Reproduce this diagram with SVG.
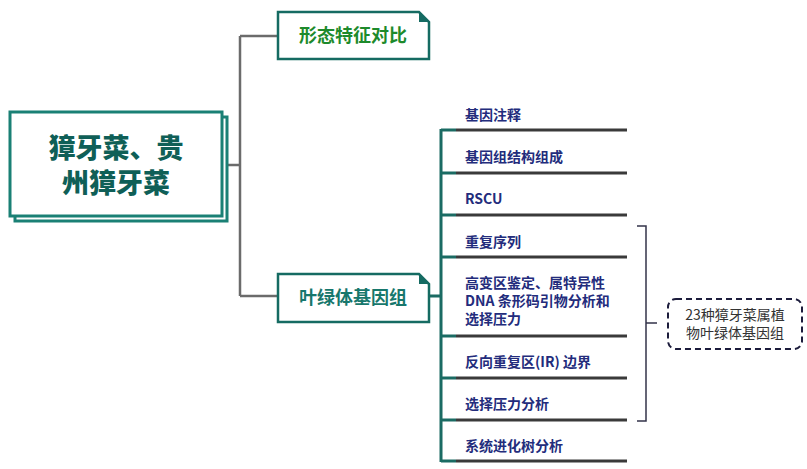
<svg xmlns="http://www.w3.org/2000/svg" width="807" height="469" viewBox="0 0 807 469">
<style>
.gl{stroke:#6b6b6b;stroke-width:2.5;fill:none}
.tl{stroke:#1a6b63;stroke-width:3;fill:none}
.dl{stroke:#3a3a3a;stroke-width:3;fill:none}
.box{fill:#fff;stroke:#156b62;stroke-width:2.5}
.leaf{font-family:"Noto Sans CJK SC","Noto Sans",sans-serif;font-size:14px;font-weight:bold;fill:#232c7c}
.mid{font-family:"Noto Sans CJK SC",sans-serif;font-size:18px;font-weight:bold;text-anchor:middle}
</style>
<rect width="807" height="469" fill="#fff"/>
<g id="connectors">
<path class="gl" d="M226 165H240M240 36V296M240 36H278M240 296H278"/>
<path class="tl" d="M429 296H441M441 129V462"/>
<path class="tl" d="M441 130H456M441 173H456M441 215H456M441 257H456M441 336H456M441 378H456M441 420H456M441 461H456"/>
<path class="dl" d="M456 130H627M456 173H627M456 215H627M456 257H627M456 336H627M456 378H627M456 420H627M456 461H627"/>
<path d="M637 226H646V421H637M646 323H657" fill="none" stroke="#33334a" stroke-width="1.5"/>
</g>
<g id="root">
<rect x="15" y="117" width="212" height="104" fill="#fff" stroke="#1a8075" stroke-width="3"/>
<rect x="10" y="112" width="212" height="104" fill="#fff" stroke="#1a8075" stroke-width="3"/>
<text font-family="Noto Sans CJK SC,sans-serif" font-size="27" font-weight="900" fill="#0f5f57" text-anchor="middle"><tspan x="116" y="158">獐牙菜、贵</tspan><tspan x="116" y="193">州獐牙菜</tspan></text>
</g>
<g id="n-morph">
<path class="box" d="M278 12H419L429 22V59H278Z"/>
<path d="M419 12L429 22H419Z" fill="#156b62"/>
<text class="mid" x="353" y="42" fill="#1d8a2b">形态特征对比</text>
</g>
<g id="n-cp">
<path class="box" d="M278 274H419L429 284V322H278Z"/>
<path d="M419 274L429 284H419Z" fill="#156b62"/>
<text class="mid" x="353" y="304" fill="#17776c">叶绿体基因组</text>
</g>
<g id="leaf1"><text class="leaf" x="465" y="120">基因注释</text></g>
<g id="leaf2"><text class="leaf" x="465" y="162">基因组结构组成</text></g>
<g id="leaf3"><text class="leaf" x="465" y="204">RSCU</text></g>
<g id="leaf4"><text class="leaf" x="465" y="247">重复序列</text></g>
<g id="leaf5"><text class="leaf"><tspan x="465" y="288">高变区鉴定、属特异性</tspan><tspan x="465" y="306">DNA 条形码引物分析和</tspan><tspan x="465" y="324">选择压力</tspan></text></g>
<g id="leaf6"><text class="leaf" x="465" y="367">反向重复区(IR) 边界</text></g>
<g id="leaf7"><text class="leaf" x="465" y="409">选择压力分析</text></g>
<g id="leaf8"><text class="leaf" x="465" y="451">系统进化树分析</text></g>
<g id="note">
<rect x="668" y="299" width="134" height="50" rx="8" fill="#fff" stroke="#1c1c3c" stroke-width="2" stroke-dasharray="6 4"/>
<text font-family="Noto Sans CJK SC,sans-serif" font-size="14" fill="#333" text-anchor="middle"><tspan x="735" y="320">23种獐牙菜属植</tspan><tspan x="735" y="338">物叶绿体基因组</tspan></text>
</g>
</svg>
